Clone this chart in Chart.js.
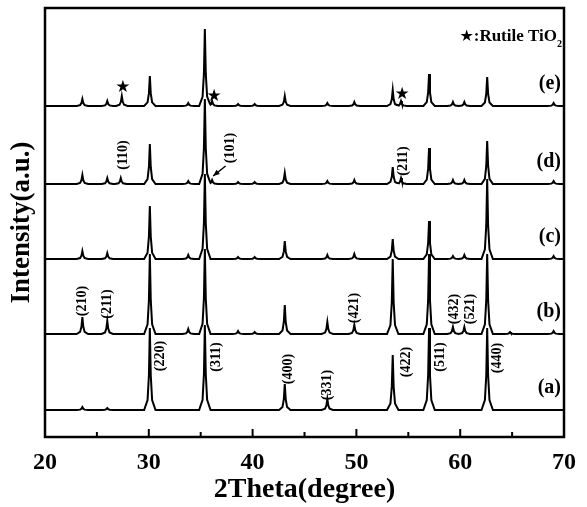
<!DOCTYPE html>
<html>
<head>
<meta charset="utf-8">
<script src="https://cdn.jsdelivr.net/npm/chart.js@4.4.1/dist/chart.umd.min.js"></script>
<style>
  body { margin: 0; background: #fff; }
  canvas { display: block; }
</style>
</head>
<body>
<canvas id="xrd" width="587" height="507"></canvas>
<script>
// peak positions (2theta) and heights (a.u.), one set per pattern
var peaks_a = [23.6, 26.0, 30.1, 35.4, 43.1, 47.2, 53.5, 57.0, 62.6]
var heights_a = [3, 2, 82, 85, 26, 11, 55, 82, 82]

var peaks_b = [23.6, 26.0, 30.1, 33.8, 35.4, 38.6, 40.2, 43.1, 47.2, 49.8, 53.5, 57.0, 59.3, 60.4, 62.6, 64.8, 69.0]
var heights_b = [17, 13, 80, 5, 85, 3, 2, 29, 12, 9, 75, 80, 7, 7, 80, 2, 3]

var peaks_c = [23.6, 26.0, 30.1, 33.8, 35.4, 38.6, 40.2, 43.1, 47.2, 49.8, 53.5, 57.0, 59.3, 60.4, 62.6, 69.0]
var heights_c = [8, 6, 53, 4, 85, 2, 2, 18, 4, 5, 20, 38, 3, 4, 80, 3]

var peaks_d = [23.6, 26.0, 27.3, 30.1, 33.8, 35.4, 36.1, 38.6, 40.2, 43.1, 47.2, 49.8, 53.5, 54.3, 57.0, 59.3, 60.4, 62.6, 69.0]
var heights_d = [9, 6, 6, 40, 3, 85, 4, 2, 2, 11, 3, 4, 17, 6, 36, 4, 4, 43, 3]

var peaks_e = [23.6, 26.0, 27.4, 30.1, 33.8, 35.4, 36.1, 38.6, 40.2, 43.1, 47.2, 49.8, 53.5, 54.3, 57.0, 59.3, 60.4, 62.6, 69.0]
var heights_e = [7, 5, 10, 30, 3, 77, 5, 2, 2, 10, 3, 4, 16, 5, 32, 4, 4, 29, 3]

var offsets = [0, 76, 151, 226, 304]
var series_names = ['(a)', '(b)', '(c)', '(d)', '(e)']

// Miller index labels: text, 2theta, height
var hkl_text = ['(110)', '(101)', '(211)', '(210)', '(211)', '(220)', '(311)', '(400)', '(331)', '(421)', '(422)', '(511)', '(432)', '(521)', '(440)']
var hkl_x = [27.6, 37.9, 54.5, 23.6, 26.0, 31.1, 36.5, 43.4, 47.2, 49.8, 54.8, 58.1, 59.4, 61.0, 63.6]
var hkl_y = [255, 262, 249, 109, 106, 54, 53, 41, 25, 102, 48, 53, 101, 101, 52]

// rutile star markers on pattern (e)
var star_x = [27.5, 36.3, 54.4]
var star_y = [322, 313, 315]

// simple peak profile (offset in degrees, fraction of height)
var profile_dx = [-0.55, -0.22, -0.09, 0, 0.09, 0.22, 0.55]
var profile_f = [0, 0.12, 0.42, 1, 0.42, 0.12, 0]

function profileAt(d) {
    if (d <= profile_dx[0] || d >= profile_dx[profile_dx.length - 1]) return 0
    for (var i = 1; i < profile_dx.length; i++) {
        if (d <= profile_dx[i]) {
            var t = (d - profile_dx[i - 1]) / (profile_dx[i] - profile_dx[i - 1])
            return profile_f[i - 1] + t * (profile_f[i] - profile_f[i - 1])
        }
    }
    return 0
}

function buildPattern(pos, h, off) {
    var xs = [20, 70]
    pos.forEach(function (p) {
        profile_dx.forEach(function (d) { xs.push(p + d) })
    })
    xs.sort(function (a, b) { return a - b })
    return xs.map(function (x) {
        var y = off
        for (var i = 0; i < pos.length; i++) y += h[i] * profileAt(x - pos[i])
        return { x: x, y: y }
    })
}

var all_peaks = [peaks_a, peaks_b, peaks_c, peaks_d, peaks_e]
var all_heights = [heights_a, heights_b, heights_c, heights_d, heights_e]

var serif = "'Liberation Serif', 'Times New Roman', serif"

var annotate = {
    id: 'annotate',
    afterDraw: function (chart) {
        var ctx = chart.ctx
        var xs = chart.scales.x
        var ys = chart.scales.y
        var area = chart.chartArea
        ctx.save()
        ctx.fillStyle = '#000'
        ctx.strokeStyle = '#000'

        // frame
        ctx.lineWidth = 2.5
        ctx.strokeRect(area.left, area.top, area.right - area.left, area.bottom - area.top)

        // inward ticks on bottom axis
        ctx.lineWidth = 2
        for (var v = 25; v < 70; v += 5) {
            var px = xs.getPixelForValue(v)
            var len = (v % 10 === 0) ? 8 : 5
            ctx.beginPath()
            ctx.moveTo(px, area.bottom)
            ctx.lineTo(px, area.bottom - len)
            ctx.stroke()
        }

        // hkl labels, rotated
        ctx.font = 'bold 14px ' + serif
        ctx.textAlign = 'center'
        ctx.textBaseline = 'middle'
        for (var i = 0; i < hkl_text.length; i++) {
            ctx.save()
            ctx.translate(xs.getPixelForValue(hkl_x[i]), ys.getPixelForValue(hkl_y[i]))
            ctx.rotate(-Math.PI / 2)
            ctx.fillText(hkl_text[i], 0, 0)
            ctx.restore()
        }

        // arrow for (101)
        var ax0 = xs.getPixelForValue(37.4), ay0 = ys.getPixelForValue(244)
        var ax1 = xs.getPixelForValue(36.2), ay1 = ys.getPixelForValue(234)
        ctx.lineWidth = 1.5
        ctx.beginPath()
        ctx.moveTo(ax0, ay0)
        ctx.lineTo(ax1, ay1)
        ctx.stroke()
        var ang = Math.atan2(ay1 - ay0, ax1 - ax0)
        ctx.beginPath()
        ctx.moveTo(ax1, ay1)
        ctx.lineTo(ax1 - 7 * Math.cos(ang - 0.4), ay1 - 7 * Math.sin(ang - 0.4))
        ctx.lineTo(ax1 - 7 * Math.cos(ang + 0.4), ay1 - 7 * Math.sin(ang + 0.4))
        ctx.closePath()
        ctx.fill()

        // stars
        ctx.font = '17px DejaVu Sans'
        for (var s = 0; s < star_x.length; s++) {
            ctx.fillText('\u2605', xs.getPixelForValue(star_x[s]), ys.getPixelForValue(star_y[s]))
        }

        // series letters
        ctx.font = 'bold 20px ' + serif
        ctx.textAlign = 'right'
        for (var k = 0; k < series_names.length; k++) {
            ctx.fillText(series_names[k], area.right - 3, ys.getPixelForValue(offsets[k] + 22))
        }

        // legend: star : Rutile TiO2
        var ly = ys.getPixelForValue(373)
        var rx = area.right - 2
        ctx.font = 'bold 10px ' + serif
        var w2 = ctx.measureText('2').width
        ctx.textAlign = 'right'
        ctx.fillText('2', rx, ly + 7)
        ctx.font = 'bold 17px ' + serif
        var txt = ':Rutile TiO'
        ctx.fillText(txt, rx - w2, ly)
        var wt = ctx.measureText(txt).width
        ctx.font = '16px DejaVu Sans'
        ctx.fillText('\u2605', rx - w2 - wt, ly)
        ctx.restore()
    }
}

var xrd = new Chart(
    document.getElementById('xrd'),
    {
        type: 'line',
        data: {
            datasets: all_peaks.map(function (p, i) {
                return {
                    label: series_names[i],
                    data: buildPattern(p, all_heights[i], offsets[i]),
                    borderColor: '#000',
                    borderWidth: 2,
                    pointRadius: 0,
                    tension: 0,
                    fill: false
                }
            })
        },
        options: {
            responsive: false,
            animation: false,
            devicePixelRatio: 1,
            layout: { padding: { top: 8, right: 14, left: 0, bottom: 0 } },
            plugins: {
                legend: { display: false },
                tooltip: { enabled: false }
            },
            scales: {
                x: {
                    type: 'linear',
                    min: 20,
                    max: 70,
                    grid: { display: false, drawTicks: false },
                    border: { display: false },
                    ticks: {
                        stepSize: 10,
                        padding: 11,
                        color: '#000',
                        font: { family: serif, size: 24, weight: 'bold' }
                    },
                    title: {
                        display: true,
                        text: '2Theta(degree)',
                        color: '#000',
                        padding: { top: 0, bottom: 0 },
                        font: { family: serif, size: 28, weight: 'bold' }
                    },
                    afterFit: function (s) { s.height = 70 }
                },
                y: {
                    min: -27,
                    max: 402,
                    grid: { display: false, drawTicks: false },
                    border: { display: false },
                    ticks: { display: false },
                    title: {
                        display: true,
                        text: 'Intensity(a.u.)',
                        color: '#000',
                        padding: { top: 6, bottom: 0 },
                        font: { family: serif, size: 27, weight: 'bold' }
                    },
                    afterFit: function (s) { s.width = 45 }
                }
            }
        },
        plugins: [annotate]
    }
);
</script>
</body>
</html>
